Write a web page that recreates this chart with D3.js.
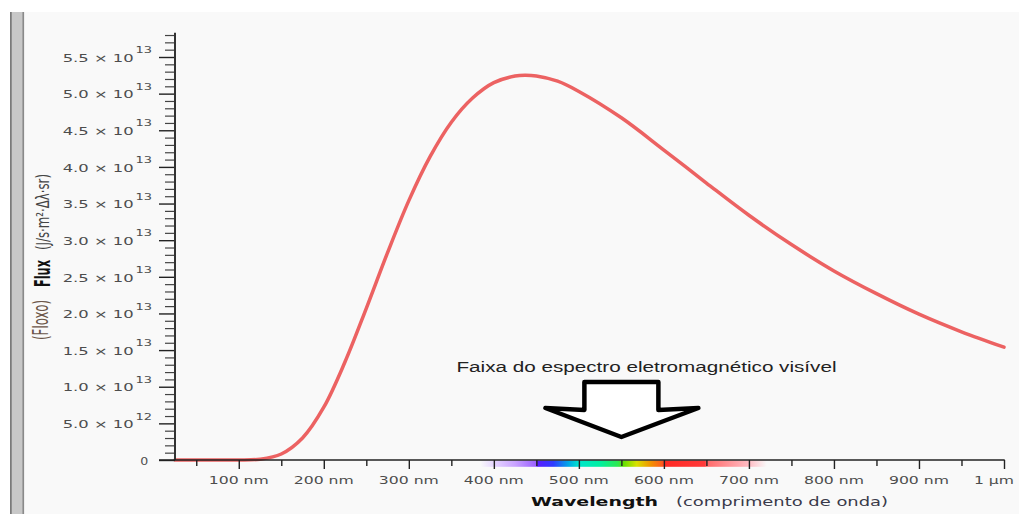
<!DOCTYPE html>
<html>
<head>
<meta charset="utf-8">
<script src="https://cdn.jsdelivr.net/npm/d3@7"></script>
<style>
  html, body { margin: 0; padding: 0; background: #ffffff; }
  svg { display: block; }
</style>
</head>
<body>
<svg id="chart" width="1019" height="514"></svg>
<script>
// Spectral radiance of a hot black body versus wavelength
const wavelengthNm = [25, 50, 75, 100, 125, 150, 175, 200, 225, 250, 275, 300, 325, 350, 375, 400,
                      425, 437, 450, 475, 500, 550, 600, 650, 700, 750, 800, 850, 900, 950, 1000];
// flux in units of 10^13 J/s·m²·Δλ·sr
const fluxE13 = [0, 0, 0, 0, 0.011, 0.082, 0.30, 0.72, 1.34, 2.07, 2.83, 3.54, 4.14, 4.61, 4.94, 5.15,
                 5.24, 5.25, 5.24, 5.17, 5.03, 4.67, 4.23, 3.78, 3.34, 2.94, 2.58, 2.27, 1.99, 1.75, 1.54];

const yTickValues = [0, 5e12, 1e13, 1.5e13, 2e13, 2.5e13, 3e13, 3.5e13, 4e13, 4.5e13, 5e13, 5.5e13];
const xTickValues = [100, 200, 300, 400, 500, 600, 700, 800, 900, 1000];
const xTickLabels = ["100 nm", "200 nm", "300 nm", "400 nm", "500 nm", "600 nm", "700 nm", "800 nm", "900 nm", "1 µm"];

// visible band colour stops
const spectrumNm =     [384, 400, 425, 449, 451, 470, 488, 500, 525, 546, 552, 568, 585, 598, 601, 648, 651, 700, 721];
const spectrumColors = ["#f9f9f9", "#e6d6ff", "#c9a3ff", "#9c62ff", "#5a1cff", "#2e3cff", "#00a8e6", "#00e6cc", "#00f0a0", "#2ee850",
                        "#5fe000", "#d8e000", "#f29000", "#ff5a1e", "#ff2a24", "#ff3a3a", "#ff6a6a", "#ffbcc4", "#f9f9f9"];

const W = 1019, H = 514;
const svg = d3.select("#chart");

const x = d3.scaleLinear().domain([25, 1000]).range([175, 1004]);
const y = d3.scaleLinear().domain([0, 5.5e13]).range([460, 57]);
const yTop = 5.83e13;

// page frame
svg.append("rect").attr("width", W).attr("height", H).attr("fill", "#ffffff");
svg.append("rect").attr("x", 24).attr("y", 12).attr("width", W - 24).attr("height", H - 12).attr("fill", "#f9f9f9");
svg.append("rect").attr("x", 11.5).attr("y", 12).attr("width", 11).attr("height", H - 12).attr("fill", "#c8c8c8");
svg.append("rect").attr("x", 10).attr("y", 12).attr("width", 1.8).attr("height", H - 12).attr("fill", "#7a7a7a");
svg.append("rect").attr("x", 22.3).attr("y", 12).attr("width", 1.8).attr("height", H - 12).attr("fill", "#8a8a8a");

const FONT = "'DejaVu Sans', Verdana, sans-serif";

function fitText(parent, str, x0, y0, len, size, opts = {}) {
  return parent.append("text")
    .attr("x", x0).attr("y", y0)
    .attr("textLength", len).attr("lengthAdjust", "spacingAndGlyphs")
    .attr("font-family", opts.family || FONT)
    .attr("font-size", size)
    .attr("font-weight", opts.weight || "normal")
    .attr("fill", opts.fill || "#4d4d4d")
    .text(str);
}

function vertText(parent, str, bx, by, len, size, sx, opts = {}) {
  parent.append("text")
    .attr("transform", `translate(${bx},${by}) scale(${sx},1) rotate(-90)`)
    .attr("textLength", len).attr("lengthAdjust", "spacingAndGlyphs")
    .attr("font-family", opts.family || FONT)
    .attr("font-size", size)
    .attr("font-weight", opts.weight || "normal")
    .attr("fill", opts.fill || "#4d4d4d")
    .text(str);
}

// visible spectrum strip under the axis
const defs = svg.append("defs");
const grad = defs.append("linearGradient").attr("id", "visible")
  .attr("gradientUnits", "userSpaceOnUse")
  .attr("x1", x(spectrumNm[0])).attr("x2", x(spectrumNm[spectrumNm.length - 1]))
  .attr("y1", 0).attr("y2", 0);
const span = spectrumNm[spectrumNm.length - 1] - spectrumNm[0];
spectrumNm.forEach((nm, i) => {
  grad.append("stop").attr("offset", (nm - spectrumNm[0]) / span).attr("stop-color", spectrumColors[i]);
});
svg.append("rect")
  .attr("x", x(spectrumNm[0])).attr("y", 460.5)
  .attr("width", x(spectrumNm[spectrumNm.length - 1]) - x(spectrumNm[0]))
  .attr("height", 6.3)
  .attr("fill", "url(#visible)");

// curve
const line = d3.line()
  .x((d, i) => x(wavelengthNm[i]))
  .y(d => y(d * 1e13))
  .curve(d3.curveCatmullRom.alpha(0.5));
svg.append("path")
  .datum(fluxE13)
  .attr("d", line)
  .attr("fill", "none")
  .attr("stroke", "#ec6262")
  .attr("stroke-width", 3.5)
  .attr("stroke-linejoin", "round")
  .attr("stroke-linecap", "round");

// y axis
const yMinor = d3.range(0, yTop, 1e12).filter(v => Math.round(v / 1e12) % 5 !== 0);
const yAxisG = svg.append("g").attr("transform", `translate(${x(25)},0)`);
yAxisG.call(d3.axisLeft(y).tickValues(yMinor).tickSize(10).tickFormat(""))
  .call(g => g.select(".domain").remove())
  .call(g => g.selectAll(".tick line").attr("stroke", "#444").attr("stroke-width", 1.2));
yAxisG.append("g").call(d3.axisLeft(y).tickValues(yTickValues).tickSize(16).tickFormat(""))
  .call(g => g.select(".domain").remove())
  .call(g => g.selectAll(".tick line").attr("stroke", "#222").attr("stroke-width", 1.4));
yAxisG.append("line").attr("x1", 0).attr("x2", 0).attr("y1", y(0)).attr("y2", y(yTop))
  .attr("stroke", "#333").attr("stroke-width", 2);

// y tick labels: mantissa × 10^exponent
const yLab = svg.append("g");
yTickValues.forEach(v => {
  const ty = y(v);
  if (v === 0) {
    fitText(yLab, "0", 140.2, ty + 4.7, 8, 10.5);
    return;
  }
  const e = Math.floor(Math.log10(v) + 1e-9);
  const m = (v / Math.pow(10, e)).toFixed(1);
  fitText(yLab, `${m} × 10`, 62.7, ty + 4.7, 71, 10.5);
  fitText(yLab, String(e), 135.5, ty - 3.8, 16.5, 8);
});

// x axis
const xMinor = d3.range(50, 1000, 100);
const xAxisG = svg.append("g").attr("transform", `translate(0,${y(0)})`);
xAxisG.call(d3.axisBottom(x).tickValues(xMinor).tickSize(6).tickFormat(""))
  .call(g => g.select(".domain").remove())
  .call(g => g.selectAll(".tick line").attr("stroke", "#222").attr("stroke-width", 1.4));
xAxisG.append("g").call(d3.axisBottom(x).tickValues(xTickValues).tickSize(9).tickFormat(""))
  .call(g => g.select(".domain").remove())
  .call(g => g.selectAll(".tick line").attr("stroke", "#222").attr("stroke-width", 1.4));
xAxisG.append("line").attr("x1", 159).attr("x2", x(1000) + 0.7).attr("y1", 0).attr("y2", 0)
  .attr("stroke", "#222").attr("stroke-width", 1.5);

const xLab = svg.append("g");
xTickValues.forEach((v, i) => {
  const label = xTickLabels[i];
  const len = label.length === 6 ? 60 : 40;
  fitText(xLab, label, x(v) - 30, 483.5, len, 10.8);
});

// axis titles
fitText(svg, "Wavelength", 531, 506, 127, 11.8, { weight: "bold", fill: "#111" });
fitText(svg, "(comprimento de onda)", 676, 506, 212, 11.8, { fill: "#3a3a4a" });

vertText(svg, "(Floxo)", 48, 340, 40, 11, 1.95, { fill: "#6b5548" });
vertText(svg, "Flux", 50, 287, 27, 11, 1.85, { weight: "bold", fill: "#111" });
vertText(svg, "(J/s·m²·Δλ·sr)", 48.5, 250, 76, 9, 1.9, { fill: "#444" });

// annotation for the visible band
fitText(svg, "Faixa do espectro eletromagnético visível", 456.5, 372.3, 380, 14,
        { family: "'Liberation Sans', Arial, sans-serif", fill: "#222" });

const tipX = x(550), tipY = 437;
const arrowPts = [
  [tipX - 37, 382], [tipX + 37, 382], [tipX + 37, 410], [tipX + 77, 408],
  [tipX, tipY], [tipX - 76, 408], [tipX - 37, 410]
];
svg.append("path")
  .attr("d", d3.line()(arrowPts) + "Z")
  .attr("fill", "#ffffff")
  .attr("stroke", "#000")
  .attr("stroke-width", 4.5)
  .attr("stroke-linejoin", "round");
</script>
</body>
</html>
